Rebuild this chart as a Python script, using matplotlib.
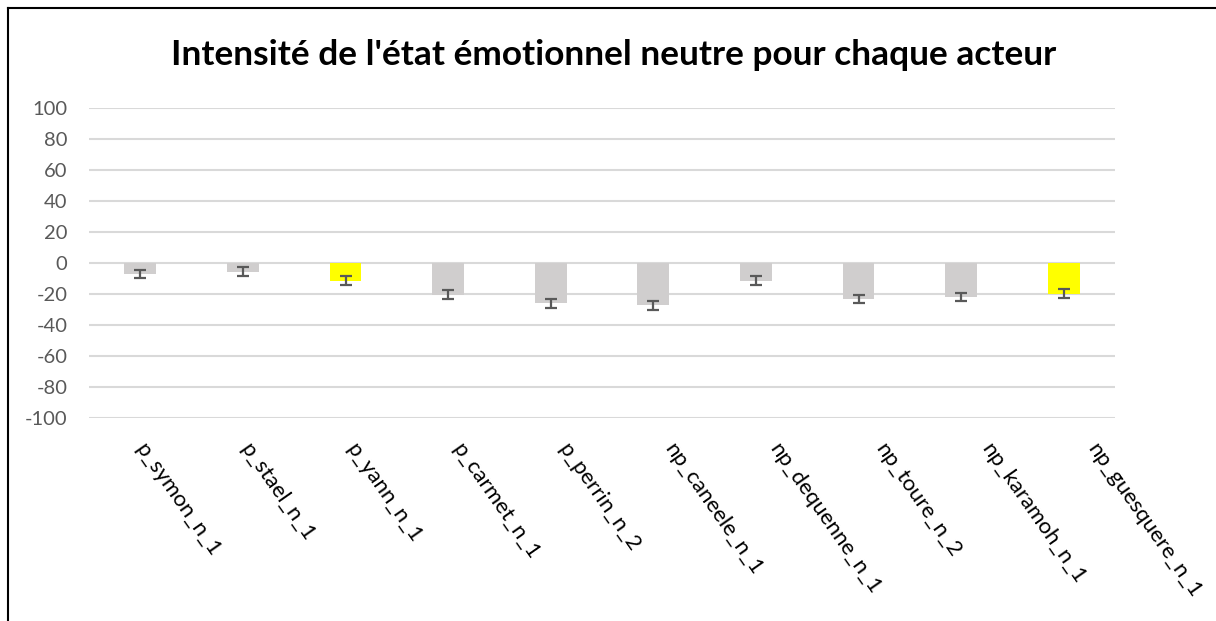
import matplotlib
matplotlib.use("Agg")
import matplotlib.pyplot as plt
from matplotlib.lines import Line2D

plt.rcParams['font.family'] = ['Lato', 'DejaVu Sans']

actors = ["p_symon_n_1", "p_stael_n_1", "p_yann_n_1", "p_carmet_n_1", "p_perrin_n_2",
          "np_caneele_n_1", "np_dequenne_n_1", "np_toure_n_2", "np_karamoh_n_1", "np_guesquere_n_1"]
intensity = [-7.3, -5.5, -11.5, -20.4, -26.0, -27.3, -11.3, -23.3, -22.0, -19.7]
errors = [2.5, 2.8, 2.8, 2.8, 2.8, 2.8, 2.8, 2.8, 2.8, 2.8]
highlight = [False, False, True, False, False, False, False, False, False, True]
yticks = list(range(-100, 101, 20))
title = "Intensité de l'état émotionnel neutre pour chaque acteur"

W, H = 1216, 621
fig = plt.figure(figsize=(W / 100, H / 100), dpi=100)
left, right = 89.0 / W, 1115 / W
top, bottom = 1 - 108 / H, 1 - 418 / H
ax = fig.add_axes([left, bottom, right - left, top - bottom])

x = list(range(len(actors)))
colors = ["#FFFF00" if h else "#D0CECE" for h in highlight]
ax.bar(x, intensity, width=0.31, color=colors, zorder=2)
ax.errorbar(x, intensity, yerr=errors, fmt="none", ecolor="#595959",
            elinewidth=1.6, capsize=4.2, capthick=1.6, zorder=3)

ax.set_xlim(-0.5, len(actors) - 0.5)
ax.set_ylim(-100, 100)
ax.set_yticks(yticks)
ax.set_yticklabels([str(v) for v in yticks], color="#595959", fontsize=14.5)
ax.yaxis.grid(True, color="#D9D9D9", linewidth=1.5, zorder=0)
ax.set_axisbelow(True)
ax.tick_params(axis="both", length=0)
ax.tick_params(axis="y", pad=15.5)
for s in ax.spines.values():
    s.set_visible(False)

ax.set_xticks(x)
ax.set_xticklabels([])
for xi, name in zip(x, actors):
    ax.annotate(name, xy=(xi, -100), xycoords="data",
                xytext=(7 + 3.2 * xi, -22), textcoords="offset pixels",
                rotation=-55, rotation_mode="anchor",
                ha="left", va="top", fontsize=16, color="black")

fig.text(613.5 / W, 1 - 55 / H, title, ha="center", va="center",
         fontsize=25.4, fontweight="bold", color="black")

# figure border (left and top)
fig.add_artist(Line2D([8 / W, 8 / W], [0, 1 - 8 / H], transform=fig.transFigure,
                      color="black", linewidth=1.5))
fig.add_artist(Line2D([8 / W, 1], [1 - 8 / H, 1 - 8 / H], transform=fig.transFigure,
                      color="black", linewidth=1.5))

fig.savefig("out.png", dpi=100)
